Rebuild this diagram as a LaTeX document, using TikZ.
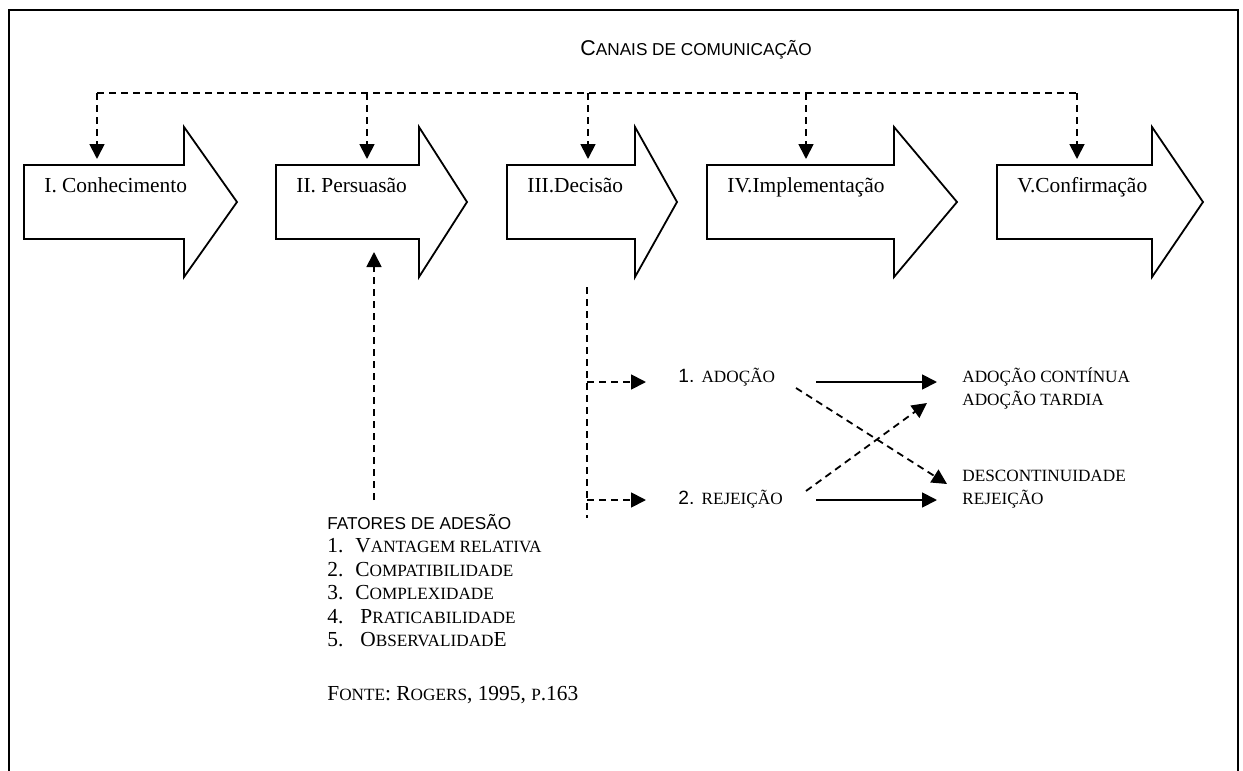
\documentclass[tikz,border=0pt]{standalone}
\usepackage{fontspec}
\setmainfont{Liberation Serif}
\setsansfont{Liberation Sans}
\usetikzlibrary{arrows.meta}
\newcommand{\smc}[1]{{\fontsize{8.6}{10}\selectfont #1}}

\begin{document}
\begin{tikzpicture}[x=0.5pt,y=-0.5pt,
  blockarrow/.style={draw,line width=0.9pt,line join=miter},
  dline/.style={line width=0.9pt,dash pattern=on 3.5pt off 2.5pt},
  sline/.style={line width=0.9pt},
  tip/.style={-{Triangle[length=7.5pt,width=7.5pt]}},
  txt/.style={inner sep=0,anchor=base west,font=\fontsize{10.7}{13}\selectfont},
  stxt/.style={inner sep=0,anchor=base west,font=\sffamily\fontsize{8.6}{10}\selectfont}]
\useasboundingbox (0,0) rectangle (1243,771);

% Frame (open at the bottom)
\draw[line width=1pt] (9,771) -- (9,10) -- (1238,10) -- (1238,771);

% Title
\node[stxt] (canais) at (580,55) {{\fontsize{10.7}{13}\selectfont C}ANAIS DE COMUNICAÇÃO};

% Five stages with the channel bus
\foreach \n/\l/\h/\t/\d/\txt in {1/24/184/237/97/I. Conhecimento,
  2/276/419/467/367/II. Persuasão, 3/507/635/677/588/III.Decisão,
  4/707/894/957/806/IV.Implementação, 5/997/1152/1203/1077/V.Confirmação}
{
  \draw[blockarrow] (\l,165) -- (\h,165) -- (\h,127) -- (\t,202) -- (\h,277) -- (\h,239) -- (\l,239) -- cycle;
  \node[txt] (stage\n) at (\l+20,192) {\txt};
  \coordinate (bus\n) at (\d,93);
  \coordinate (in\n) at (\d,159);
  \draw[dline,tip] (bus\n) -- (in\n);
}
\draw[dline] (bus1) -- (bus5);

% Adhesion factors feeding persuasion
\node[stxt] (fat) at (327,529) {FATORES DE ADESÃO};
\foreach \txt/\xx [count=\k] in {{V\smc{ANTAGEM RELATIVA}}/355, {C\smc{OMPATIBILIDADE}}/355,
  {C\smc{OMPLEXIDADE}}/355, {P\smc{RATICABILIDADE}}/360, {O\smc{BSERVALIDAD}E}/360}
{
  \node[txt] (num\k) at (327,{529+23.5*\k}) {\k.};
  \node[txt] (fac\k) at (\xx,{529+23.5*\k}) {\txt};
}
\node[txt] (fonte) at (327,700) {F\smc{ONTE}: R\smc{OGERS}, 1995, \smc{P}.163};
\coordinate (fatbase) at (374,500);
\coordinate (persin) at (374,252);
\draw[dline,tip] (fatbase) -- (persin);

% Decision: adoption or rejection
\coordinate (dtop) at (587,287);
\coordinate (dbot) at (587,518);
\draw[dline] (dtop) -- (dbot);
\node[txt] (ado) at (678,382) {{\sffamily\fontsize{9.6}{11}\selectfont 1.} \smc{ADOÇÃO}};
\node[txt] (rej) at (678,504) {{\sffamily\fontsize{9.6}{11}\selectfont 2.} \smc{REJEIÇÃO}};
\coordinate (ja) at (587,382);
\coordinate (ka) at (646,382);
\coordinate (jr) at (587,500);
\coordinate (kr) at (646,500);
\draw[dline,tip] (ja) -- (ka);
\draw[dline,tip] (jr) -- (kr);

% Outcomes
\node[txt] (cont) at (962,382) {\smc{ADOÇÃO CONTÍNUA}};
\node[txt] (tard) at (962,405) {\smc{ADOÇÃO TARDIA}};
\node[txt] (desc) at (962,481) {\smc{DESCONTINUIDADE}};
\node[txt] (rejo) at (962,504) {\smc{REJEIÇÃO}};
\coordinate (aos) at (816,382);
\coordinate (aoe) at (937,382);
\coordinate (ros) at (816,500);
\coordinate (roe) at (937,500);
\draw[sline,tip] (aos) -- (aoe);
\draw[sline,tip] (ros) -- (roe);
\coordinate (ads) at (796,388);
\coordinate (ade) at (947,484);
\coordinate (rds) at (806,491);
\coordinate (rde) at (927,403);
\draw[dline,tip] (ads) -- (ade);
\draw[dline,tip] (rds) -- (rde);

\end{tikzpicture}
\end{document}
